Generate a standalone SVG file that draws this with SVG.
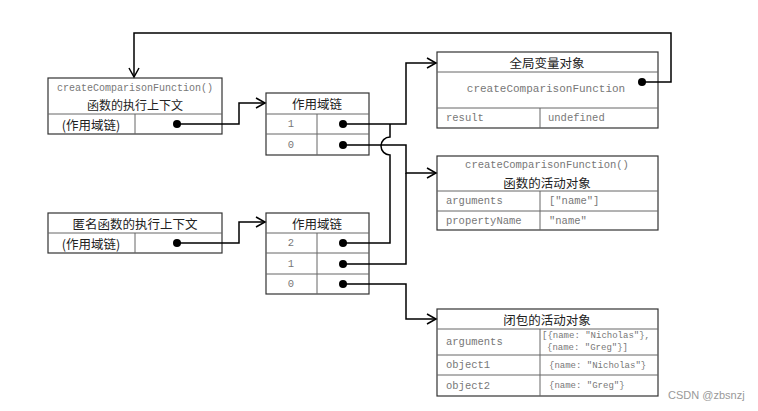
<svg xmlns="http://www.w3.org/2000/svg" width="758" height="411" viewBox="0 0 758 411">
<defs>
<marker id="arr" markerWidth="12" markerHeight="12" refX="10" refY="6" orient="auto" markerUnits="userSpaceOnUse">
<path d="M1,1 L10,6 L1,11" fill="none" stroke="#000" stroke-width="1.5"/>
</marker>
<style>
.box{fill:#fff;stroke:#333;stroke-width:1.2}
.div{stroke:#666;stroke-width:1;fill:none}
.cn{font-family:"Noto Sans CJK SC","Noto Sans",sans-serif;font-size:12.5px;fill:#222;text-anchor:middle;dominant-baseline:central}
.mono{font-family:"Liberation Mono",monospace;font-size:10.5px;fill:#777;dominant-baseline:central}
.sm{font-family:"Liberation Mono",monospace;font-size:9px;fill:#777;dominant-baseline:central}
.mid{text-anchor:middle}
.dot{fill:#000}
.wire{fill:none;stroke:#000;stroke-width:1.5}
.wm{font-family:"Liberation Sans",Arial,sans-serif;font-size:11px;fill:#999}
</style>
</defs>
<rect width="758" height="411" fill="#fff"/>

<g id="ctx1">
<rect class="box" x="48" y="78" width="174" height="56"/>
<line class="div" x1="48" y1="114" x2="222" y2="114"/>
<line class="div" x1="135" y1="114" x2="135" y2="134"/>
<text class="mono mid" x="135" y="88" style="font-size:10px">createComparisonFunction()</text>
<text class="cn" x="135" y="104.5" style="font-size:12px">函数的执行上下文</text>
<text class="cn" x="91" y="124">(作用域链)</text>
<circle class="dot" cx="177" cy="124" r="4"/>
</g>

<g id="chain1">
<rect class="box" x="266" y="93" width="103" height="62"/>
<line class="div" x1="266" y1="114" x2="369" y2="114"/>
<line class="div" x1="266" y1="134" x2="369" y2="134"/>
<line class="div" x1="317" y1="114" x2="317" y2="155"/>
<text class="cn" x="317" y="103">作用域链</text>
<text class="mono mid" x="291" y="124">1</text>
<text class="mono mid" x="291" y="145">0</text>
<circle class="dot" cx="343" cy="124" r="4"/>
<circle class="dot" cx="343" cy="145" r="4"/>
</g>

<g id="ctx2">
<rect class="box" x="48" y="213" width="174" height="40"/>
<line class="div" x1="48" y1="233" x2="222" y2="233"/>
<line class="div" x1="135" y1="233" x2="135" y2="253"/>
<text class="cn" x="135" y="223">匿名函数的执行上下文</text>
<text class="cn" x="91" y="243">(作用域链)</text>
<circle class="dot" cx="177" cy="243" r="4"/>
</g>

<g id="chain2">
<rect class="box" x="266" y="213" width="103" height="81"/>
<line class="div" x1="266" y1="233" x2="369" y2="233"/>
<line class="div" x1="266" y1="253" x2="369" y2="253"/>
<line class="div" x1="266" y1="274" x2="369" y2="274"/>
<line class="div" x1="317" y1="233" x2="317" y2="294"/>
<text class="cn" x="317" y="223">作用域链</text>
<text class="mono mid" x="291" y="243">2</text>
<text class="mono mid" x="291" y="264">1</text>
<text class="mono mid" x="291" y="284">0</text>
<circle class="dot" cx="343" cy="243" r="4"/>
<circle class="dot" cx="343" cy="264" r="4"/>
<circle class="dot" cx="343" cy="284" r="4"/>
</g>

<g id="global">
<rect class="box" x="437" y="52" width="221" height="76"/>
<line class="div" x1="437" y1="72" x2="658" y2="72"/>
<line class="div" x1="437" y1="108" x2="658" y2="108"/>
<line class="div" x1="540" y1="108" x2="540" y2="128"/>
<text class="cn" x="547" y="62">全局变量对象</text>
<text class="mono mid" x="546" y="89" style="font-size:11px">createComparisonFunction</text>
<text class="mono" x="446" y="118">result</text>
<text class="mono" x="548" y="118">undefined</text>
<circle class="dot" cx="642" cy="82" r="4"/>
</g>

<g id="activation">
<rect class="box" x="437" y="156" width="221" height="74"/>
<line class="div" x1="437" y1="191" x2="658" y2="191"/>
<line class="div" x1="437" y1="211" x2="658" y2="211"/>
<line class="div" x1="540" y1="191" x2="540" y2="230"/>
<text class="mono mid" x="547" y="165">createComparisonFunction()</text>
<text class="cn" x="547" y="182">函数的活动对象</text>
<text class="mono" x="446" y="201">arguments</text>
<text class="mono" x="549" y="201">["name"]</text>
<text class="mono" x="446" y="221">propertyName</text>
<text class="mono" x="549" y="221">"name"</text>
</g>

<g id="closure">
<rect class="box" x="437" y="309" width="221" height="87"/>
<line class="div" x1="437" y1="329" x2="658" y2="329"/>
<line class="div" x1="437" y1="355" x2="658" y2="355"/>
<line class="div" x1="437" y1="375" x2="658" y2="375"/>
<line class="div" x1="540" y1="329" x2="540" y2="396"/>
<text class="cn" x="547" y="319">闭包的活动对象</text>
<text class="mono" x="446" y="342">arguments</text>
<text class="sm" x="542" y="336">[{name: "Nicholas"},</text>
<text class="sm" x="547" y="348">{name: "Greg"}]</text>
<text class="mono" x="446" y="365">object1</text>
<text class="sm" x="549" y="366">{name: "Nicholas"}</text>
<text class="mono" x="446" y="386">object2</text>
<text class="sm" x="549" y="386">{name: "Greg"}</text>
</g>

<g id="connectors">
<path class="wire" d="M642,82 H671 V33 H134 V77" marker-end="url(#arr)"/>
<path class="wire" d="M177,124 H239 V103 H265" marker-end="url(#arr)"/>
<path class="wire" d="M177,243 H239 V222 H265" marker-end="url(#arr)"/>
<path class="wire" d="M343,124 H406 V63 H436" marker-end="url(#arr)"/>
<path class="wire" d="M343,145 H406 V173 H436" marker-end="url(#arr)"/>
<path class="wire" d="M343,264 H406 V173"/>
<path class="wire" d="M343,243 H390 V155 A9,9 0 0 1 390,137 V124"/>
<path class="wire" d="M343,284 H406 V319 H436" marker-end="url(#arr)"/>
</g>

<text class="wm" x="668" y="399">CSDN @zbsnzj</text>
</svg>
